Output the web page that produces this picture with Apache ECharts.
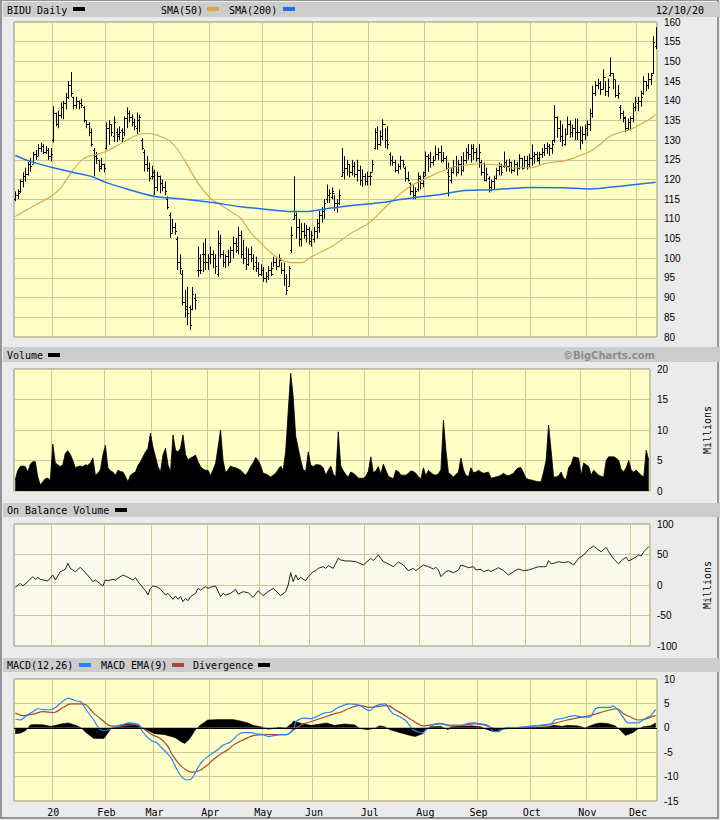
<!DOCTYPE html>
<html><head><meta charset="utf-8">
<script src="https://cdn.jsdelivr.net/npm/echarts@6/dist/echarts.min.js"></script>
<style>html,body{margin:0;padding:0;background:#ebebeb}#c{width:720px;height:820px}</style>
</head><body><div id="c"></div><script>
// ---------- DATA ----------
const monthStarts = [15, 36, 55, 77, 98, 118, 140, 162, 183, 204, 226, 246];
const monthLabels = ['20','Feb','Mar','Apr','May','Jun','Jul','Aug','Sep','Oct','Nov','Dec'];
const dayCount = 254;
const dateLabel = '12/10/20';

const priceOpen = [
 115,116,117,119.5,121,121.5,124,124,126.5,126,128,128.5,127,127.5,126,
 130,137,134,136.5,138.5,139.5,141,144,141,139,140,139.5,138.5,135,134,132,127.5,126,125,123,124,
 128,133,134,131,132,131.5,132.5,132,135.5,137,136,134.5,133,135,130,127,124,123,121,
 121,118,121,119,118,115,111,106.5,108,105,99,96,89,88,87.5,87,90,97,97,101,99,99,
 100,101,100,96,104,101,99,100.5,99,102,104,102,106,101,100,98.5,101,100,99,97.5,96,
 97,95,95.5,97,97.5,99,98,99.5,97,95,93,102,110,111,108,105,107,106,107.5,104.5,
 105,107,108,111,112,115,116,115.5,116.5,114,114,121,122,123,124,122,123.5,121.5,122.5,120,121,119.5,
 121,122,128,132,129,131,134,130,126.5,125,124.5,122.5,123.5,125,123,120.5,119,117,116,117.5,120.5,119,
 122,126,125.5,124.5,125,126.5,127,125,125.5,122,120,122,123.5,122,124,122.5,125,127,126.5,128,127,
 125.5,124.5,122,120,120.5,118,119.5,120.5,122.5,123.5,123.5,124.5,123.5,124.5,122.5,124,123,125.5,123,125,124,
 125.5,126,126.5,125,126.5,127,128,128.5,128,130,136,133,131,129,131.5,134,132,133,132,132,130,131.5,
 133,134,137,142,144,144.5,143,146,142.5,146.5,147,145.5,141.5,138.5,137,135.5,133,134.5,135.5,138.5,
 139.5,140,142,145,144,145.5,147,154
];
const priceHigh = [
 117,117.5,120,121.8,123,124.5,125.5,127,127.5,129,129.4,129,128.5,128,128,
 138.6,137,137.5,139.6,140,142,145,147.3,141,141,140,140.5,138.6,135,134.5,133,128,127,125,125.5,124,
 134.5,135,134,136,133,133.5,133,136,138.3,137.5,136.5,135.5,137,136.5,130.5,127.6,126,124.3,123.5,
 122.5,122,121,120,119.5,115.7,111.6,110,109,105.5,101,97,92,92.7,88,92.7,91,103,101,104,105,101,
 103,102,101,107,106,102,101,102.2,103,105.5,105.2,108,107,104.7,103,102.5,103,101,100.4,99,98.5,
 97.8,96.5,98,99,100.4,100,101,99,98.9,96,98,108,120.8,111.6,110,109,109,108.5,108,107,
 108,110,112,113,115,118.7,117.5,118,116,115,117.4,128,125.9,125,124,125,124.5,125,123.5,122.5,121.5,122,
 122,125,133,133.5,132.5,135.3,133,133.5,126.9,126,125,124,126,125,123.3,122,119.2,118.5,118,121.8,121,122,
 127.1,126.5,127,126,128.6,128,128.6,127,126,124.3,123,125,126,125,126,126.9,128,129,128.9,129,128,
 129,125,124.3,123,120.8,120,121,123,124.3,124,127.1,125,125.2,124.5,125,124.5,126.4,125.5,126,126,126.5,
 128.9,127,127.1,127,128,129,129.4,129,130,138.9,136,135,134,133,136,135,134,135.5,135.5,133.5,133.5,134,
 135,138,143.8,145,145.5,145,148,145,145.6,151,147,145.3,144,138.9,137.5,136,135.5,136,139.4,141,
 141,142.5,146.2,145,147,147,156.4,158.7
];
const priceLow = [
 114.5,115,116.5,118,119.5,121,122,124,125,126,127,126.5,126.5,125,124.6,
 129.4,133.5,133,135.5,135.3,137.8,140.4,141,137.8,138,137.8,138.2,134.5,133,131,128.4,120.8,124,122,122.5,121.8,
 127.6,128.8,131,129.5,129.5,130,129.5,131,133,134.5,133.5,132.5,131.5,132,127.5,122,122,119.5,120,
 116,117,116.5,117,116,112.4,105.2,106.5,106,97,96,88,85,83,81.8,86.8,87,95.3,96,96.5,97,97,
 98.5,97.5,96,95.3,100,97.7,97.5,98,99,100,101.4,101,100,98.5,97,98,99,97,96.5,95.3,95.5,
 94,93.8,94.5,95.5,97.8,97,97.8,96,93,90.7,93,101.4,109.8,105,103,103,105,104,103.5,103,
 104,105,106.5,109,110,114,114,115,112,111.6,113.5,120.8,120,121,120.5,121,120.5,119.5,118.5,118.2,118.5,118.5,
 118.5,122,127.6,127.6,128.5,130,128,127.6,123.5,123.5,121.8,121.5,122.5,123,119.5,119.5,116,115,115,117,117.5,118,
 120.8,122,123,123.5,125,125,124.3,124.5,122.5,115.7,119,121.5,120.8,121.5,121,122,124,125,124.3,125,124.5,
 123,121,119.5,119.5,116.7,117,117.5,120,121,121,123,122,122,121.5,122,121,122.5,122.5,123,122.5,123,
 123.5,124,124.5,123.8,125.5,126,126.5,126,126.5,129.4,130.6,129.5,128.4,128.6,131.5,130.6,130.7,130,130,127.6,129,130,
 131,132.3,135.7,141.2,142.9,141.5,142.9,141.2,141,146.2,143,140.8,140.5,135.3,134.5,132,132.5,132.5,134.5,137.3,
 137.3,138.5,141.5,142.4,143,144,146.8,153.1
];
const priceClose = [
 116,116.5,119.5,121,121.5,124,123.5,126.5,126,128,128.5,127,127.5,126,126.4,
 137,134,136.5,138.5,139.5,141,144,142,139,140,139.5,139,135,134,132,129,126,125.5,123.5,124,123,
 133,134,132,134.5,131,132,130.5,135.5,137,136,134.5,133.5,135,136,128,124,123,120.5,122,
 118,121,119,118,117,113,106.5,108,107,99,97.5,89,87,86,83,91,89.5,100,97,101,99,100,
 101,100,98,104,101,99,100.5,99,102,104,103,106,101,100,98.5,101,100,98,97.5,96,97,
 95,95.5,97,96,99,98,100,97,95,92,97.5,106,112,108,105,107,106,107.5,104.5,106,
 107,109,111,112,114,116,116.5,117,114,113,116,122,123,124,122,123.5,121.5,122.5,120,121,119.5,121,
 121,124,132,129,131,134,130,129,125,124.5,122.5,123.5,125,124,120.5,120,117,116,117,121,119,121,
 126,125.5,124.5,125,126.5,127,125,125.5,123,121,122,123.5,122,124,122.5,125,127,126.5,128,127,125.5,
 127,122,120,121.5,118,119.5,120.5,122.5,123.5,122,124.5,123.5,124.5,122.5,124,123,125.5,123,125,124,125.5,
 126,126.5,125.5,126.5,127,128,128.5,128,129,136,133,131,130,131.5,134,132,133,132,132,130,131.5,133,
 134,137,142,144,144.5,143,146,142.5,143.5,147,145.5,141.5,142,137,136,133,134.5,135.5,138.5,140,
 140,141,145,144,145.5,146.5,155,157
];
// [day index, value] readings of the moving averages
const sma50 = [[0,110.6],[7,113.2],[14,115.7],[18,117.9],[22,121.7],[27,125.3],[32,126.4],[36,127.2],[41,128.9],[49,131.5],[53,131.7],[57,131],[61,129.8],[65,126.8],[69,122.5],[73,118.3],[77,115.3],[81,113.6],[85,111.9],[89,110.2],[93,106.5],[97,103.9],[101,101.4],[105,99.6],[109,98.9],[113,98.9],[117,100.4],[125,103],[133,106.5],[140,109.1],[148,114.1],[156,118.3],[164,120.8],[172,123],[180,123.8],[184,124],[188,123.8],[192,123.6],[196,123],[200,123],[204,123],[208,123.8],[212,124.4],[216,124.6],[220,125.3],[223,126.1],[227,127.1],[231,128.9],[235,131],[239,132],[243,132.7],[247,134],[251,135.5],[253,136.6]];
const sma200 = [[0,126.1],[6,124.6],[15,123],[23,121.8],[30,120.8],[36,119.2],[45,117.4],[55,115.7],[65,115.1],[77,114.2],[89,113.1],[97,112.6],[109,111.9],[115,111.9],[121,112.4],[129,113.1],[136,113.6],[144,114.1],[152,114.9],[160,115.6],[168,116.2],[176,117.1],[188,117.4],[204,118],[216,117.9],[227,117.6],[239,118.3],[253,119.3]];
// daily volume, millions
const volume = [
 1.8,3.4,4.0,4.1,4.0,3.1,4.4,4.8,4.8,2.3,1.0,1.5,2.0,2.1,1.8,
 7.7,4.6,4.3,4.0,4.3,6.2,6.6,6.0,5.0,3.8,4.0,4.1,4.0,4.3,4.2,4.6,5.4,2.6,2.9,3.5,5.9,
 7.5,3.8,3.3,3.1,2.6,3.4,3.2,3.1,2.4,1.5,2.6,2.9,3.1,4.2,4.8,5.6,6.4,7.0,9.5,
 7.2,5.6,4.0,3.1,5.9,7.0,4.3,3.1,9.2,6.7,6.4,7.0,9.2,6.0,5.1,5.4,5.6,5.9,4.8,4.0,3.6,3.4,
 3.4,2.5,3.5,4.5,7.2,10.0,5.0,3.0,3.5,4.1,3.9,3.8,3.6,3.4,3.0,2.6,3.2,4.0,4.6,5.5,5.0,
 4.2,2.9,2.8,2.6,2.3,2.6,2.9,3.5,4.1,3.4,6.5,13.0,19.3,15.5,9.0,7.0,5.1,3.5,3.2,6.4,
 4.3,4.0,4.3,4.3,4.2,3.8,2.6,3.4,4.1,2.8,2.3,9.7,4.1,3.3,2.7,2.3,3.1,2.9,2.6,2.1,2.1,2.1,
 2.4,3.2,5.6,3.0,3.3,4.0,2.8,4.4,3.4,2.4,2.2,2.0,3.4,3.2,2.6,2.6,2.6,2.9,3.3,3.2,2.9,2.3,
 2.0,3.8,2.5,3.4,3.0,2.7,2.6,2.8,3.5,11.6,6.7,3.0,2.7,2.3,2.7,3.1,5.4,3.5,2.5,2.4,3.8,
 3.0,3.1,3.4,3.1,2.9,3.0,3.1,2.1,2.2,2.3,2.4,2.6,2.9,2.6,2.5,2.7,2.9,3.5,3.8,3.8,3.0,
 2.1,1.9,1.8,1.7,1.6,1.5,1.5,3.1,5.0,10.8,6.7,2.3,2.3,2.5,3.1,2.1,1.9,3.8,4.4,5.6,5.5,5.4,
 2.6,4.6,4.3,4.0,2.6,3.4,3.0,2.6,2.4,2.3,5.0,5.6,5.6,5.6,5.4,5.0,3.5,3.2,3.8,5.0,
 3.4,3.1,3.4,3.0,2.6,2.3,6.7,5.0
];
// on balance volume readings [day index, millions]
const obv = [[0,-3.8],[2,2.7],[3,-1.6],[5,5.5],[7,13.7],[8,9.3],[9,12.6],[10,9.3],[13,6.6],[15,16.4],[16,8.2],[18,21.9],[20,25.7],[21,35.5],[22,27.3],[24,21.9],[26,29],[28,20.2],[30,11],[31,5.5],[32,8.2],[34,1.6],[35,-1.6],[36,8.2],[37,7],[39,9.3],[40,8.2],[43,16.4],[45,12.6],[47,8.2],[48,12],[49,5.5],[52,-9.3],[53,-16.4],[54,-5.5],[55,-1.6],[57,-3.8],[58,-7],[60,-16.4],[61,-13.7],[63,-23.5],[64,-18],[65,-23.5],[66,-19],[67,-27.3],[68,-21.9],[69,-25.7],[70,-19],[72,-13.7],[73,-5.5],[74,-8.2],[76,-2.7],[77,-5.5],[78,-3.8],[80,-1.6],[82,-19],[83,-13.7],[84,-16.4],[86,-13.7],[88,-7],[89,-15],[91,-11],[93,-12.6],[95,-20.2],[97,-9.3],[99,-17.5],[101,-11],[103,-5.5],[104,-9.3],[106,-17.5],[108,-11],[109,0],[110,20.2],[111,5.5],[112,16.4],[113,8.2],[114,12.6],[115,9.3],[116,7],[117,13.7],[119,21.9],[120,23.5],[121,27.3],[123,30],[124,27.3],[125,31.7],[127,27.3],[128,35.5],[129,43.7],[130,41],[132,39.3],[134,39.3],[136,38.3],[139,32.8],[142,43.7],[143,40],[145,49.2],[147,38.3],[149,34.6],[151,30],[153,37.7],[155,32.8],[157,23.5],[159,27.3],[160,23.5],[163,32.8],[165,30],[167,26.2],[168,29],[169,24.6],[170,13.7],[172,21.9],[173,23.5],[175,20.2],[177,24.6],[178,32.8],[180,30],[181,28.4],[183,30],[184,24.6],[186,25.7],[187,21.9],[189,24.6],[190,21.9],[193,28.4],[195,23.5],[197,16.4],[199,21.9],[201,26.2],[203,23.5],[205,24.6],[207,27.3],[209,30],[211,30],[212,30],[213,40],[214,34.6],[215,35.5],[217,38.3],[219,36.6],[221,38.3],[223,32.8],[225,43.7],[227,49.2],[229,58.5],[231,63.9],[232,60.1],[234,54.6],[236,61.7],[237,54.6],[239,42.6],[241,34.6],[242,40],[244,45.5],[245,39.3],[247,43.7],[249,49.2],[250,47.5],[251,54.6],[253,63]];
// MACD(12,26) readings [day index, value]
const macd = [[0,1.8],[2,1.6],[5,2.7],[7,3.3],[9,3.9],[12,3.7],[14,3.7],[16,4.2],[18,5.1],[21,6.1],[24,5.5],[26,5.3],[28,3.7],[31,1.6],[33,-0.1],[35,-0.6],[37,-0.4],[39,0.1],[42,0.6],[45,1.0],[47,0.9],[49,0.6],[50,-0.6],[52,-1.8],[54,-2.7],[56,-3.1],[58,-4.2],[60,-5.2],[62,-6.6],[64,-8.7],[66,-10.2],[68,-10.7],[70,-10.2],[72,-8.3],[74,-6.8],[77,-5.5],[80,-4.5],[82,-3.6],[85,-2.9],[88,-1.4],[90,-1.0],[93,-1.0],[96,-1.3],[98,-1.4],[100,-1.8],[102,-1.6],[105,-1.4],[107,-1.4],[110,-0.1],[111,1.3],[114,2.0],[117,1.9],[119,2.3],[122,3.0],[125,3.3],[127,4.0],[130,4.7],[132,4.9],[136,4.6],[140,3.5],[142,4.4],[146,4.9],[147,4.4],[149,3.0],[151,2.5],[154,1.6],[156,0.3],[157,-0.4],[159,-0.8],[161,-1.0],[163,-0.1],[165,0.6],[167,0.9],[169,0.8],[171,0.4],[173,0.5],[176,0.5],[179,0.9],[181,1.0],[184,0.8],[187,0.4],[189,-0.8],[191,-0.8],[193,-0.1],[195,0.1],[197,0.0],[201,0.2],[205,0.4],[209,0.6],[212,0.9],[213,1.6],[216,1.9],[218,2.2],[221,2.5],[224,2.2],[227,2.2],[229,3.8],[231,4.2],[235,4.2],[236,4.5],[238,3.7],[240,2.3],[242,1.0],[244,1.0],[246,1.0],[248,1.6],[250,2.2],[251,2.5],[253,3.7]];
// MACD EMA(9) readings
const macdSignal = [[0,3.0],[3,2.5],[7,2.8],[11,3.3],[15,3.1],[19,4.2],[22,4.9],[26,4.9],[28,4.7],[31,3.0],[35,1.3],[37,0.5],[41,0.3],[45,0.6],[48,0.6],[50,0.0],[54,-1.4],[57,-2.1],[60,-3.6],[62,-5.5],[65,-7.6],[68,-8.8],[70,-9.1],[73,-8.7],[76,-7.6],[78,-6.6],[81,-5.4],[84,-4.5],[86,-3.6],[89,-2.7],[92,-2.0],[94,-1.6],[98,-1.4],[102,-1.4],[107,-1.4],[110,-0.4],[113,0.6],[117,1.3],[121,2.0],[125,2.7],[129,3.3],[132,4.0],[136,4.6],[140,4.2],[144,4.4],[147,4.6],[150,3.7],[153,2.8],[156,1.8],[159,0.8],[161,0.4],[164,0.6],[168,0.8],[172,0.5],[176,0.5],[181,0.8],[185,0.6],[189,-0.1],[192,-0.2],[196,-0.1],[200,0.1],[204,0.3],[209,0.5],[213,0.9],[218,1.6],[224,2.2],[227,2.5],[231,3.1],[235,3.7],[238,3.9],[240,3.0],[243,2.2],[246,1.6],[249,1.8],[251,2.2],[253,2.5]];
// Divergence histogram readings
const divergence = [[0,-1.2],[2,-1.1],[4,-0.6],[5,0.0],[6,0.6],[8,0.7],[11,0.6],[14,0.3],[16,0.5],[18,0.8],[21,1.0],[24,0.5],[26,0.0],[28,-1.0],[31,-2.2],[35,-2.2],[37,-0.8],[38,0.0],[41,0.5],[45,0.9],[48,0.5],[50,0.0],[55,-1.2],[59,-1.4],[63,-2.0],[66,-3.0],[67,-3.2],[69,-2.2],[71,-0.5],[73,0.5],[76,1.6],[80,1.7],[86,1.7],[89,1.4],[92,1.0],[94,0.5],[97,0.2],[100,-0.3],[104,0.1],[107,0.0],[109,0.8],[110,1.4],[113,0.9],[117,0.5],[123,1.0],[126,0.5],[130,0.8],[134,0.6],[136,-0.1],[139,-0.4],[142,-0.1],[144,0.4],[146,0.2],[148,-0.4],[152,-1.0],[156,-1.6],[158,-1.8],[161,-1.2],[162,-0.3],[164,0.2],[168,0.3],[171,-0.4],[172,0.2],[176,0.3],[180,0.4],[184,0.2],[186,-0.3],[189,-0.8],[192,-0.4],[195,0.0],[200,0.1],[205,0.1],[210,0.2],[213,0.5],[216,0.3],[218,0.5],[222,0.4],[225,0.0],[229,0.8],[231,1.0],[234,0.9],[237,0.4],[239,-0.5],[241,-1.6],[244,-1.0],[246,-0.2],[248,0.2],[251,0.4],[253,1.0]];

// ---------- CHART ----------
const cats = Array.from({length: dayCount}, (_, i) => String(i));
const priceData = cats.map((c, i) => [i, priceOpen[i], priceHigh[i], priceLow[i], priceClose[i]]);

const GRID = '#cdc994', PLOT = '#ffffc6', PLOT_OBV = '#fafaec', BAND = '#cccccc';
const MONO = '"DejaVu Sans Mono", monospace';
const isMonth = (i) => monthStarts.indexOf(Number(i)) >= 0;

const grids = [
  {left: 14, top: 22, width: 643, height: 315, backgroundColor: PLOT},
  {left: 14, top: 369, width: 643, height: 122, backgroundColor: PLOT},
  {left: 14, top: 524, width: 643, height: 122, backgroundColor: PLOT_OBV},
  {left: 14, top: 679, width: 643, height: 122, backgroundColor: PLOT}
].map(g => Object.assign(g, {show: true, borderColor: '#8a8a8a', borderWidth: 1}));

function xAx(gi, showLabel) {
  return {
    type: 'category', gridIndex: gi, data: cats, boundaryGap: true,
    axisLine: {show: false}, axisTick: {show: false},
    splitLine: {show: true, interval: (i) => isMonth(i), lineStyle: {color: GRID, width: 1}},
    axisLabel: {show: showLabel, interval: (i) => isMonth(i), margin: 6,
      fontFamily: MONO, fontSize: 10, color: '#000',
      formatter: (v) => monthLabels[monthStarts.indexOf(Number(v))]}
  };
}
function yAx(gi, min, max, interval, name) {
  return {
    type: 'value', gridIndex: gi, position: 'right', min, max, interval,
    axisLine: {show: false}, axisTick: {show: false},
    splitLine: {show: true, lineStyle: {color: GRID, width: 1}},
    axisLabel: {color: '#000', fontFamily: 'Liberation Sans', fontSize: 10, margin: 7},
    name: name || '', nameLocation: 'middle', nameRotate: 90, nameGap: 52,
    nameTextStyle: {fontFamily: MONO, fontSize: 10, color: '#000'}
  };
}

function renderOHLC(params, api) {
  const i = api.value(0);
  const pH = api.coord([i, api.value(2)]);
  const x = Math.round(pH[0]) + 0.5;
  const yL = api.coord([i, api.value(3)])[1];
  const yO = Math.round(api.coord([i, api.value(1)])[1]) + 0.5;
  const yC = Math.round(api.coord([i, api.value(4)])[1]) + 0.5;
  const st = {stroke: '#000', lineWidth: 1};
  return {type: 'group', children: [
    {type: 'line', shape: {x1: x, y1: pH[1], x2: x, y2: yL}, style: st},
    {type: 'line', shape: {x1: x - 1.5, y1: yO, x2: x, y2: yO}, style: st},
    {type: 'line', shape: {x1: x, y1: yC, x2: x + 1.5, y2: yC}, style: st}
  ]};
}

function band(y, h) { return {type: 'rect', shape: {x: 3, y: y, width: 717, height: h}, style: {fill: BAND}, silent: true}; }
function txt(x, y, s, opt) {
  return {type: 'text', x: x, y: y, silent: true, style: Object.assign({text: s, font: '10px ' + MONO, fill: '#000', textVerticalAlign: 'middle'}, opt || {})};
}
function sw(x, y, color) { return {type: 'rect', shape: {x: x, y: y, width: 12, height: 4}, style: {fill: color}, silent: true}; }

const chart = echarts.init(document.getElementById('c'), null, {renderer: 'svg', width: 720, height: 820});
chart.setOption({
  animation: false,
  backgroundColor: '#ebebeb',
  grid: grids,
  xAxis: [xAx(0, false), xAx(1, false), xAx(2, false), xAx(3, true)],
  yAxis: [yAx(0, 80, 160, 5), yAx(1, 0, 20, 5, 'Millions'), yAx(2, -100, 100, 50, 'Millions'), yAx(3, -15, 10, 5)],
  graphic: [
    {type: 'rect', shape: {x: 1, y: 0, width: 717, height: 818}, style: {fill: 'none', stroke: '#7a7a7a', lineWidth: 1.5}, silent: true},
    band(2, 15), band(347, 15), band(503, 14), band(658, 14),
    txt(7, 10, 'BIDU Daily'), sw(73, 7, '#000'),
    txt(161, 10, 'SMA(50)'), sw(207, 7, '#d9a44a'),
    txt(229, 10, 'SMA(200)'), sw(283, 7, '#1f6fe5'),
    txt(704, 10, dateLabel, {textAlign: 'right'}),
    txt(7, 355, 'Volume'), sw(48, 353, '#000'),
    txt(655, 355, '\u00a9BigCharts.com', {textAlign: 'right', font: 'bold 10px "DejaVu Sans"', fill: '#8c8c8c'}),
    txt(7, 510, 'On Balance Volume'), sw(115, 508, '#000'),
    txt(7, 665, 'MACD(12,26)'), sw(79, 663, '#1f86ff'),
    txt(101, 665, 'MACD EMA(9)'), sw(172, 663, '#a8453c'),
    txt(193, 665, 'Divergence'), sw(258, 663, '#000')
  ],
  series: [
    {type: 'custom', name: 'BIDU', xAxisIndex: 0, yAxisIndex: 0, data: priceData,
     encode: {x: 0, y: [1, 2, 3, 4]}, renderItem: renderOHLC, clip: true, z: 3},
    {type: 'line', name: 'SMA(50)', xAxisIndex: 0, yAxisIndex: 0, data: sma50, smooth: 0.3,
     showSymbol: false, lineStyle: {color: '#d9a44a', width: 1.1}, z: 4},
    {type: 'line', name: 'SMA(200)', xAxisIndex: 0, yAxisIndex: 0, data: sma200, smooth: 0.3,
     showSymbol: false, lineStyle: {color: '#1f6fe5', width: 1.5}, z: 4},
    {type: 'line', name: 'Volume', xAxisIndex: 1, yAxisIndex: 1, data: volume,
     showSymbol: false, lineStyle: {color: '#000', width: 0.8}, areaStyle: {color: '#000', opacity: 1}},
    {type: 'line', name: 'OBV', xAxisIndex: 2, yAxisIndex: 2, data: obv,
     showSymbol: false, lineStyle: {color: '#222', width: 1}},
    {type: 'line', name: 'Divergence', xAxisIndex: 3, yAxisIndex: 3, data: divergence,
     showSymbol: false, lineStyle: {color: '#000', width: 0.5}, areaStyle: {color: '#000', opacity: 1},
     markLine: {silent: true, symbol: ['none', 'none'], label: {show: false},
       lineStyle: {color: '#000', width: 1.2, type: 'solid'}, data: [{yAxis: 0}]}},
    {type: 'line', name: 'MACD EMA(9)', xAxisIndex: 3, yAxisIndex: 3, data: macdSignal, smooth: 0.3,
     showSymbol: false, lineStyle: {color: '#a8453c', width: 1.2}},
    {type: 'line', name: 'MACD(12,26)', xAxisIndex: 3, yAxisIndex: 3, data: macd, smooth: 0.3,
     showSymbol: false, lineStyle: {color: '#1f86ff', width: 1.2}}
  ]
});
</script></body></html>
